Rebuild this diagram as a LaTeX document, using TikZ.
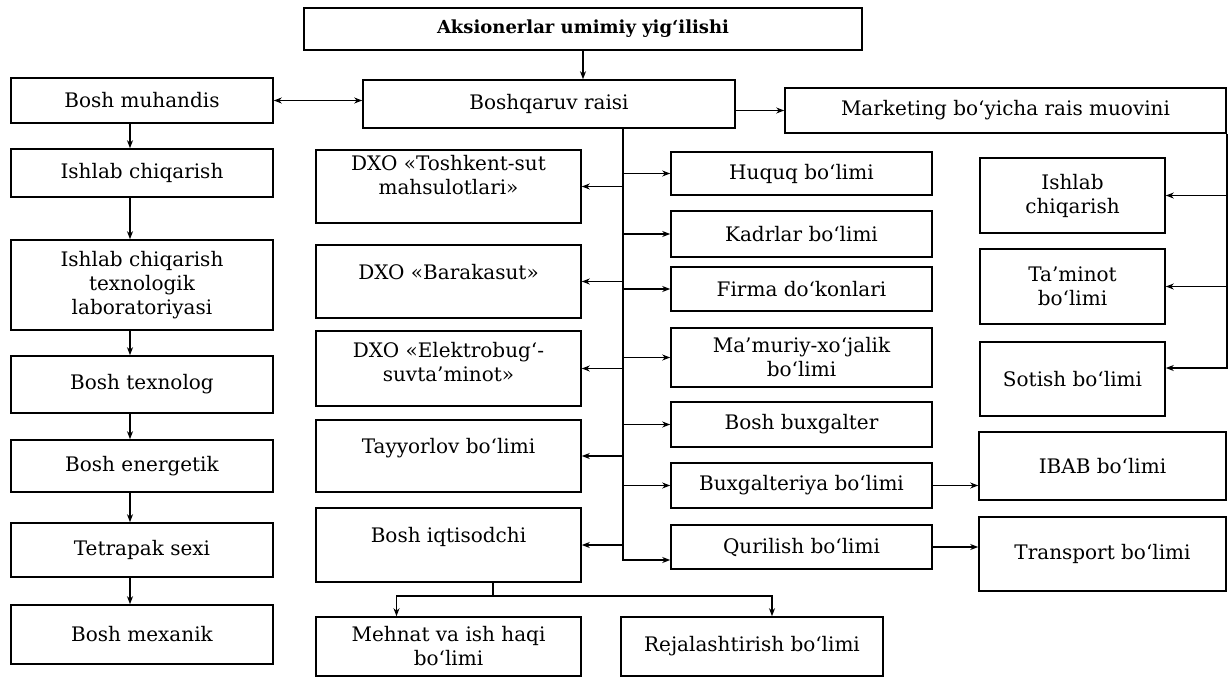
\documentclass[tikz,border=0pt]{standalone}
\usepackage{fontspec}
\setmainfont{DejaVu Serif}
\usetikzlibrary{arrows.meta}

\tikzset{
  unit/.style={draw, line width=1.6pt, align=center, inner sep=2pt},
  link/.style={line width=1.6pt},
  arr/.style={link, -{Stealth[length=8pt,width=6pt]}},
  arrs/.style={link, {Stealth[length=8pt,width=6pt]}-{Stealth[length=8pt,width=6pt]}}
}

\begin{document}
\begin{tikzpicture}[x=1pt, y=-1pt, font=\fontsize{20}{24}\selectfont]
\useasboundingbox (0,0) rectangle (1232,677);

% top
\node[unit, minimum width=558pt, minimum height=42pt, font=\fontsize{18}{22}\selectfont\bfseries] (akc) at (583,29) {Aksionerlar umimiy yig‘ilishi};
\node[unit, minimum width=372pt, minimum height=48pt] (raisi) at (549,104) {Boshqaruv raisi};
\node[unit, minimum width=441pt, minimum height=45pt] (marketing) at (1005.5,110.5) {Marketing bo‘yicha rais muovini};

% left column
\node[unit, minimum width=262pt, minimum height=45pt] (muhandis) at (142,100.5) {Bosh muhandis};
\node[unit, minimum width=262pt, minimum height=48pt] (chiqarish) at (142,173) {Ishlab chiqarish};
\node[unit, minimum width=262pt, minimum height=90pt] (lab) at (142,285) {Ishlab chiqarish\\texnologik\\laboratoriyasi};
\node[unit, minimum width=262pt, minimum height=57pt] (texnolog) at (142,384.5) {Bosh texnolog};
\node[unit, minimum width=262pt, minimum height=52pt] (energetik) at (142,466) {Bosh energetik};
\node[unit, minimum width=262pt, minimum height=54pt] (tetrapak) at (142,550) {Tetrapak sexi};
\node[unit, minimum width=262pt, minimum height=59pt] (mexanik) at (142,634.5) {Bosh mexanik};

% middle left column
\node[unit, minimum width=265pt, minimum height=73pt, label={[align=center, yshift=11pt]center:{DXO «Toshkent-sut\\mahsulotlari»}}] (toshkent) at (448.5,186.5) {};
\node[unit, minimum width=265pt, minimum height=73pt, label={[yshift=9pt]center:DXO «Barakasut»}] (barakasut) at (448.5,281.5) {};
\node[unit, minimum width=265pt, minimum height=75pt, label={[align=center, yshift=6pt]center:{DXO «Elektrobug‘-\\suvta’minot»}}] (elektro) at (448.5,368.5) {};
\node[unit, minimum width=265pt, minimum height=72pt, label={[yshift=8pt]center:Tayyorlov bo‘limi}] (tayyorlov) at (448.5,456) {};
\node[unit, minimum width=265pt, minimum height=74pt, label={[yshift=8pt]center:Bosh iqtisodchi}] (iqtisod) at (448.5,545) {};
\node[unit, minimum width=265pt, minimum height=59pt] (mehnat) at (448.5,646.5) {Mehnat va ish haqi\\bo‘limi};
\node[unit, minimum width=262pt, minimum height=59pt] (rejal) at (752,646.5) {Rejalashtirish bo‘limi};

% middle right column
\node[unit, minimum width=261pt, minimum height=43pt] (huquq) at (801.5,173.5) {Huquq bo‘limi};
\node[unit, minimum width=261pt, minimum height=46pt] (kadrlar) at (801.5,234) {Kadrlar bo‘limi};
\node[unit, minimum width=261pt, minimum height=44pt] (firma) at (801.5,289) {Firma do‘konlari};
\node[unit, minimum width=261pt, minimum height=59pt] (mamuriy) at (801.5,357.5) {Ma’muriy-xo‘jalik\\bo‘limi};
\node[unit, minimum width=261pt, minimum height=45pt] (buxgalter) at (801.5,424.5) {Bosh buxgalter};
\node[unit, minimum width=261pt, minimum height=45pt] (buxgalteriya) at (801.5,485.5) {Buxgalteriya bo‘limi};
\node[unit, minimum width=261pt, minimum height=44pt] (qurilish) at (801.5,547) {Qurilish bo‘limi};

% right column
\node[unit, minimum width=185pt, minimum height=75pt] (rchiq) at (1072.5,195.5) {Ishlab\\chiqarish};
\node[unit, minimum width=185pt, minimum height=75pt] (taminot) at (1072.5,286.5) {Ta’minot\\bo‘limi};
\node[unit, minimum width=185pt, minimum height=74pt] (sotish) at (1072.5,379) {Sotish bo‘limi};
\node[unit, minimum width=247pt, minimum height=68pt] (ibab) at (1102.5,466) {IBAB bo‘limi};
\node[unit, minimum width=247pt, minimum height=74pt] (transport) at (1102.5,554) {Transport bo‘limi};

% connectors
\draw[arr] (akc.south) -- (akc.south |- raisi.north);
\draw[arrs] (muhandis.east) -- (muhandis.east -| raisi.west);
\draw[arr] (raisi.east |- marketing.west) -- (marketing.west);
\foreach \a/\b in {muhandis/chiqarish, chiqarish/lab, lab/texnolog, texnolog/energetik, energetik/tetrapak, tetrapak/mexanik}
  \draw[arr] ([xshift=-12pt]\a.south) -- ([xshift=-12pt]\b.north);

\coordinate (trunk) at (623,0);
\draw[arr] (raisi.south -| trunk) |- ([yshift=-13pt]qurilish.west);
\foreach \n in {toshkent, barakasut, elektro, tayyorlov, iqtisod}
  \draw[arr] (\n.east -| trunk) -- (\n.east);
\foreach \n in {huquq, kadrlar, firma, mamuriy, buxgalter, buxgalteriya}
  \draw[arr] (\n.west -| trunk) -- (\n.west);

\draw[arr] (marketing.south east) |- ([yshift=11pt]sotish.east);
\foreach \n in {rchiq, taminot}
  \draw[arr] (\n.east -| marketing.east) -- (\n.east);

\draw[arr] (buxgalteriya.east) -- (buxgalteriya.east -| ibab.west);
\draw[arr] (qurilish.east) -- (qurilish.east -| transport.west);

\coordinate (fork) at (493,596);
\draw[link] (iqtisod.south -| fork) -- (fork);
\draw[arr] (fork) -| ([xshift=-52pt]mehnat.north);
\draw[arr] (fork) -| ([xshift=20pt]rejal.north);
\end{tikzpicture}
\end{document}
